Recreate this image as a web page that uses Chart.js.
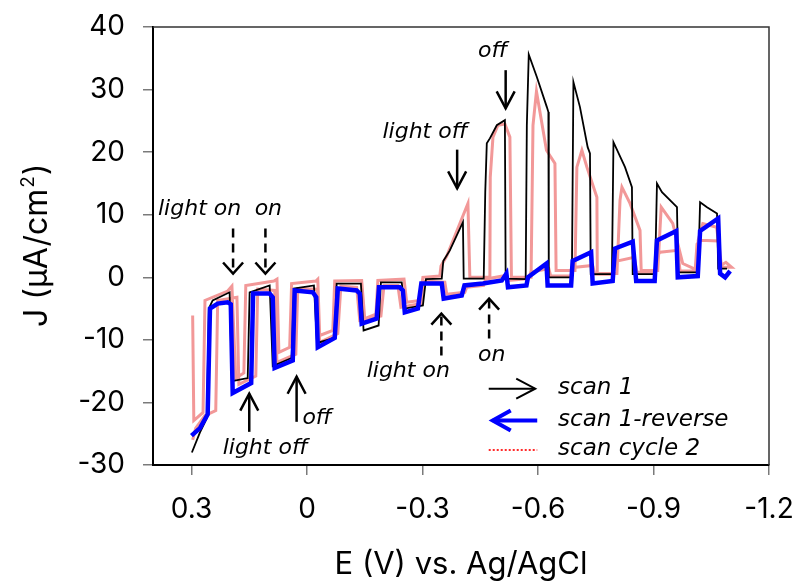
<!DOCTYPE html>
<html lang="en">
<head>
    <meta charset="UTF-8" />
    <title>Chopped light voltammogram</title>
    <script src="https://cdn.jsdelivr.net/npm/chart.js"></script>
    <style>
        body { margin: 0; background: #fff; }
        #wrap { width: 799px; height: 583px; }
    </style>
</head>
<body>
<div id="wrap">
    <canvas id="jvChart"></canvas>
</div>

<script>
    // axis ticks
    const xTicks = [0.3, 0, -0.3, -0.6, -0.9, -1.2];
    const yTicks = [-30, -20, -10, 0, 10, 20, 30, 40];

    // scan 1 (forward, 0.3 V -> -1.1 V)
    const scan1E = [0.299, 0.278, 0.260, 0.255, 0.245, 0.201, 0.195, 0.154, 0.149, 0.097, 0.089, 0.040, 0.034, -0.018, -0.026, -0.072, -0.077, -0.140, -0.147, -0.186, -0.192, -0.246, -0.254, -0.301, -0.309, -0.350, -0.354, -0.371, -0.405, -0.407, -0.459, -0.463, -0.467, -0.475, -0.493, -0.514, -0.516, -0.568, -0.571, -0.576, -0.597, -0.623, -0.627, -0.628, -0.688, -0.692, -0.709, -0.729, -0.735, -0.737, -0.792, -0.796, -0.826, -0.844, -0.846, -0.904, -0.909, -0.922, -0.961, -0.964, -1.016, -1.021, -1.039, -1.065, -1.068, -1.091];
    const scan1J = [-28.0, -24.8, -22.5, -5.0, -3.7, -2.4, -16.6, -16.1, -2.4, -1.3, -14.2, -12.9, -1.8, -1.3, -10.5, -9.7, -1.0, -1.0, -8.5, -7.7, -0.8, -0.8, -5.0, -4.5, -0.3, -0.2, 2.6, 4.3, 8.8, -0.2, -0.2, 13.6, 21.4, 22.2, 24.3, 25.1, -0.2, -0.3, 24.3, 35.6, 32.0, 27.2, 26.4, 0, 0, 31.2, 27.2, 20.8, 19.8, 0.5, 0.5, 21.6, 17.6, 14.4, 0.5, 0.5, 15.0, 13.6, 11.2, 0.8, 0.8, 12.0, 11.2, 10.2, 1.4, 1.4];

    // scan 1 reverse (-1.1 V -> 0.3 V)
    const reverseE = [-1.099, -1.086, -1.073, -1.068, -1.021, -1.015, -0.963, -0.959, -0.909, -0.903, -0.855, -0.846, -0.800, -0.794, -0.742, -0.738, -0.690, -0.686, -0.625, -0.622, -0.574, -0.570, -0.522, -0.518, -0.506, -0.457, -0.409, -0.402, -0.355, -0.350, -0.297, -0.288, -0.254, -0.249, -0.241, -0.187, -0.181, -0.142, -0.137, -0.129, -0.080, -0.072, -0.028, -0.024, -0.015, 0.032, 0.037, 0.084, 0.089, 0.097, 0.140, 0.145, 0.193, 0.198, 0.206, 0.232, 0.252, 0.258, 0.278, 0.300];
    const reverseJ = [1.0, 0, 0.6, 9.4, 7.4, 0.2, 0, 7.4, 5.9, -0.6, -0.6, 5.7, 4.6, -0.6, -1.0, 4.0, 2.6, -1.3, -1.3, 2.2, 0, -1.3, -1.6, 0.6, -0.5, -1.0, -1.3, -2.9, -3.4, -1.0, -1.0, -5.0, -5.6, -2.1, -1.6, -1.6, -6.6, -7.4, -2.6, -2.1, -1.8, -9.7, -11.2, -3.2, -2.4, -2.1, -13.3, -14.5, -3.2, -2.6, -2.6, -16.9, -18.5, -4.3, -4.0, -4.2, -5.0, -21.9, -24.1, -25.3];

    // scan cycle 2, forward then back
    const cycle2FwdE = [0.297, 0.294, 0.270, 0.265, 0.206, 0.195, 0.185, 0.164, 0.159, 0.086, 0.078, 0.073, 0.045, 0.040, -0.023, -0.028, -0.033, -0.067, -0.072, -0.142, -0.150, -0.179, -0.184, -0.252, -0.259, -0.293, -0.301, -0.345, -0.348, -0.363, -0.397, -0.418, -0.423, -0.475, -0.476, -0.483, -0.496, -0.514, -0.527, -0.531, -0.582, -0.587, -0.596, -0.622, -0.644, -0.647, -0.696, -0.701, -0.714, -0.727, -0.753, -0.754, -0.805, -0.813, -0.818, -0.839, -0.865, -0.868, -0.911, -0.920, -0.950, -0.976, -1.015, -1.016, -1.028, -1.064, -1.077, -1.103];
    const cycle2FwdJ = [-6.1, -22.9, -21.6, -3.7, -2.2, -1.4, -16.1, -15.3, -1.3, -0.6, -0.3, -12.0, -11.2, -1.0, -0.6, -0.3, -9.3, -8.5, -0.6, -0.5, -6.6, -5.9, -0.5, -0.3, -4.0, -3.7, 0, 0.2, 1.8, 3.4, 8.6, 11.8, 0, 0, 16.0, 22.4, 24.3, 24.5, 22.4, 0, 0, 24.3, 29.7, 20.3, 18.2, 1.1, 1.1, 17.6, 20.3, 17.6, 12.8, 0.6, 0.6, 12.3, 14.4, 11.8, 7.5, 1.1, 1.1, 11.2, 8.6, 2.2, 1.1, 5.9, 8.6, 8.0, 1.6, 1.6];
    const cycle2RevE = [-1.088, -1.075, -1.070, -1.021, -1.013, -1.008, -0.969, -0.963, -0.917, -0.909, -0.904, -0.857, -0.850, -0.805, -0.797, -0.792, -0.747, -0.742, -0.698, -0.690, -0.685, -0.633, -0.628, -0.581, -0.576, -0.524, -0.516, -0.464, -0.459, -0.415, -0.410, -0.363, -0.358, -0.303, -0.296, -0.244, -0.236, -0.200, -0.192, -0.137, -0.129, -0.088, -0.080, -0.033, -0.026, 0.024, 0.029, 0.078, 0.084, 0.128, 0.133, 0.177, 0.182, 0.232, 0.237, 0.265, 0.289, 0.297];
    const cycle2RevJ = [2.4, 1.9, 5.8, 5.9, 5.3, 1.0, 1.0, 4.3, 4.0, 3.4, 0.8, 0.8, 3.2, 2.6, 2.1, 0.5, 0.5, 1.9, 1.6, 1.1, 0.2, 0.2, 1.4, 0.8, -0.2, -0.5, 0.3, -0.3, -1.3, -1.6, -2.4, -2.7, -0.8, -0.6, -4.2, -4.8, -1.3, -1.3, -6.2, -6.9, -1.6, -1.4, -9.0, -10.4, -1.9, -1.8, -12.3, -13.6, -2.1, -1.9, -15.8, -17.1, -3.2, -3.7, -21.3, -22.1, -24.1, -26.0];

    // light on/off notes, placed in data units (E, J)
    const notes = [
        { text: "light on", E: 0.387, J: 9.9 },
        { text: "on", E: 0.136, J: 9.9 },
        { text: "light off", E: -0.196, J: 22.2 },
        { text: "off", E: -0.444, J: 35.2 },
        { text: "light on", E: -0.155, J: -15.9 },
        { text: "on", E: -0.444, J: -13.3 },
        { text: "light off", E: 0.219, J: -28.2 },
        { text: "off", E: 0.012, J: -23.4 },
    ];
    const noteArrows = [
        { E: 0.192, from: 7.8, to: 0.6, dashed: true },
        { E: 0.108, from: 7.8, to: 0.6, dashed: true },
        { E: -0.390, from: 20.4, to: 14.2 },
        { E: -0.516, from: 33.1, to: 27.0 },
        { E: -0.349, from: -12.5, to: -5.8, dashed: true },
        { E: -0.473, from: -9.8, to: -3.4, dashed: true },
        { E: 0.150, from: -24.7, to: -18.6 },
        { E: 0.027, from: -23.1, to: -15.9 },
    ];

    const toPoints = (es, js) => es.map((e, i) => ({ x: e, y: js[i] }));

    function drawArrow(ctx, x1, y1, x2, y2, o) {
        ctx.strokeStyle = o.color || "#000";
        ctx.lineWidth = o.width || 2;
        ctx.setLineDash(o.dash || []);
        ctx.beginPath();
        ctx.moveTo(x1, y1);
        ctx.lineTo(x2, y2);
        ctx.stroke();
        ctx.setLineDash([]);
        const a = Math.atan2(y2 - y1, x2 - x1);
        const ux = Math.cos(a), uy = Math.sin(a);
        const h = o.head || 16, w = o.half || 9;
        ctx.beginPath();
        ctx.moveTo(x2 - ux * h - uy * w, y2 - uy * h + ux * w);
        ctx.lineTo(x2, y2);
        ctx.lineTo(x2 - ux * h + uy * w, y2 - uy * h - ux * w);
        ctx.stroke();
    }

    // frame, y title, notes and the arrow legend
    const overlay = {
        id: "overlay",
        afterDraw(chart) {
            const { ctx, chartArea: area, scales } = chart;
            const sx = scales.x, sy = scales.y;
            ctx.save();

            ctx.strokeStyle = "#333";
            ctx.lineWidth = 1.5;
            ctx.beginPath();
            ctx.moveTo(area.left, area.top);
            ctx.lineTo(area.right, area.top);
            ctx.lineTo(area.right, area.bottom);
            ctx.stroke();

            // J (uA/cm2) with a raised 2
            ctx.save();
            ctx.translate(47, 327);
            ctx.rotate(-Math.PI / 2);
            ctx.fillStyle = "#000";
            ctx.textBaseline = "alphabetic";
            ctx.font = "32px Inter";
            const partA = "J (\u03bcA/cm";
            const wA = ctx.measureText(partA).width;
            ctx.fillText(partA, 0, 0);
            ctx.font = "19px Inter";
            const wS = ctx.measureText("2").width;
            ctx.fillText("2", wA + 1, -13);
            ctx.font = "32px Inter";
            ctx.fillText(")", wA + wS + 2, 0);
            ctx.restore();

            ctx.fillStyle = "#000";
            ctx.font = "italic 22px 'DejaVu Sans'";
            ctx.textBaseline = "alphabetic";
            notes.forEach(n => {
                ctx.fillText(n.text, sx.getPixelForValue(n.E), sy.getPixelForValue(n.J));
            });
            noteArrows.forEach(a => {
                const px = sx.getPixelForValue(a.E);
                drawArrow(ctx, px, sy.getPixelForValue(a.from), px, sy.getPixelForValue(a.to),
                    a.dashed ? { width: 2.5, dash: [9, 6], head: 11, half: 10 }
                             : { width: 2.5, head: 17, half: 9 });
            });

            // legend
            const lx0 = sx.getPixelForValue(-0.472), lx1 = sx.getPixelForValue(-0.598);
            const tx = sx.getPixelForValue(-0.652);
            const rows = [
                { label: "scan 1", J: -18.6 },
                { label: "scan 1-reverse", J: -23.7 },
                { label: "scan cycle 2", J: -28.4 },
            ];
            const ly = rows.map(r => sy.getPixelForValue(r.J) - 5);
            drawArrow(ctx, lx0, ly[0], lx1 - 2, ly[0], { width: 2, head: 19, half: 10 });
            drawArrow(ctx, lx1, ly[1], lx0 + 4, ly[1], { color: "#0000ff", width: 4, head: 18, half: 10 });
            ctx.strokeStyle = "#ff2a2a";
            ctx.lineWidth = 2;
            ctx.setLineDash([2, 2]);
            ctx.beginPath();
            ctx.moveTo(lx0, ly[2]);
            ctx.lineTo(lx1, ly[2]);
            ctx.stroke();
            ctx.setLineDash([]);
            ctx.font = "italic 23px 'DejaVu Sans'";
            rows.forEach(r => ctx.fillText(r.label, tx, sy.getPixelForValue(r.J)));

            ctx.restore();
        },
    };

    // keep the plot box where the layout padding puts it
    const noScalePadding = s => {
        s.paddingTop = 0;
        s.paddingBottom = 0;
        s.paddingLeft = 0;
        s.paddingRight = 0;
    };

    const tickFont = { family: "Inter", size: 28 };

    const jvCtx = document.getElementById("jvChart").getContext("2d");
    new Chart(jvCtx, {
        type: "scatter",
        data: {
            datasets: [
                {
                    label: "scan 1-reverse",
                    data: toPoints(reverseE, reverseJ),
                    showLine: true,
                    borderColor: "#0000ff",
                    borderWidth: 4.5,
                    pointRadius: 0,
                    order: 0,
                },
                {
                    label: "scan 1",
                    data: toPoints(scan1E, scan1J),
                    showLine: true,
                    borderColor: "#000000",
                    borderWidth: 1.8,
                    pointRadius: 0,
                    order: 1,
                },
                {
                    label: "scan cycle 2",
                    data: toPoints(cycle2FwdE.concat(cycle2RevE), cycle2FwdJ.concat(cycle2RevJ)),
                    showLine: true,
                    borderColor: "#f29898",
                    borderWidth: 3,
                    pointRadius: 0,
                    order: 2,
                },
            ],
        },
        options: {
            responsive: true,
            maintainAspectRatio: false,
            animation: false,
            layout: { padding: { left: 0, top: 27, right: 30, bottom: 0 } },
            plugins: {
                legend: { display: false },
                tooltip: { enabled: false },
            },
            scales: {
                x: {
                    type: "linear",
                    reverse: true,
                    min: -1.2,
                    max: 0.4,
                    afterBuildTicks: s => { s.ticks = xTicks.map(v => ({ value: v })); },
                    afterFit: s => { s.height = 118; noScalePadding(s); },
                    ticks: { font: tickFont, color: "#000", padding: 18, maxRotation: 0, callback: v => String(v) },
                    grid: { drawOnChartArea: false, drawTicks: true, tickLength: 10, color: "#7a7a7a", lineWidth: 1.5 },
                    border: { display: true, color: "#000", width: 2 },
                    title: {
                        display: true,
                        text: "E (V) vs. Ag/AgCl",
                        font: { family: "Inter", size: 31 },
                        color: "#000",
                        padding: { top: 0, bottom: 0 },
                    },
                },
                y: {
                    type: "linear",
                    min: -30,
                    max: 40,
                    afterBuildTicks: s => { s.ticks = yTicks.map(v => ({ value: v })); },
                    afterFit: s => { s.width = 153; noScalePadding(s); },
                    ticks: { font: tickFont, color: "#000", padding: 18, callback: v => String(v) },
                    grid: { drawOnChartArea: false, drawTicks: true, tickLength: 10, color: "#7a7a7a", lineWidth: 1.5 },
                    border: { display: true, color: "#000", width: 2 },
                },
            },
        },
        plugins: [overlay],
    });
</script>
</body>
</html>
